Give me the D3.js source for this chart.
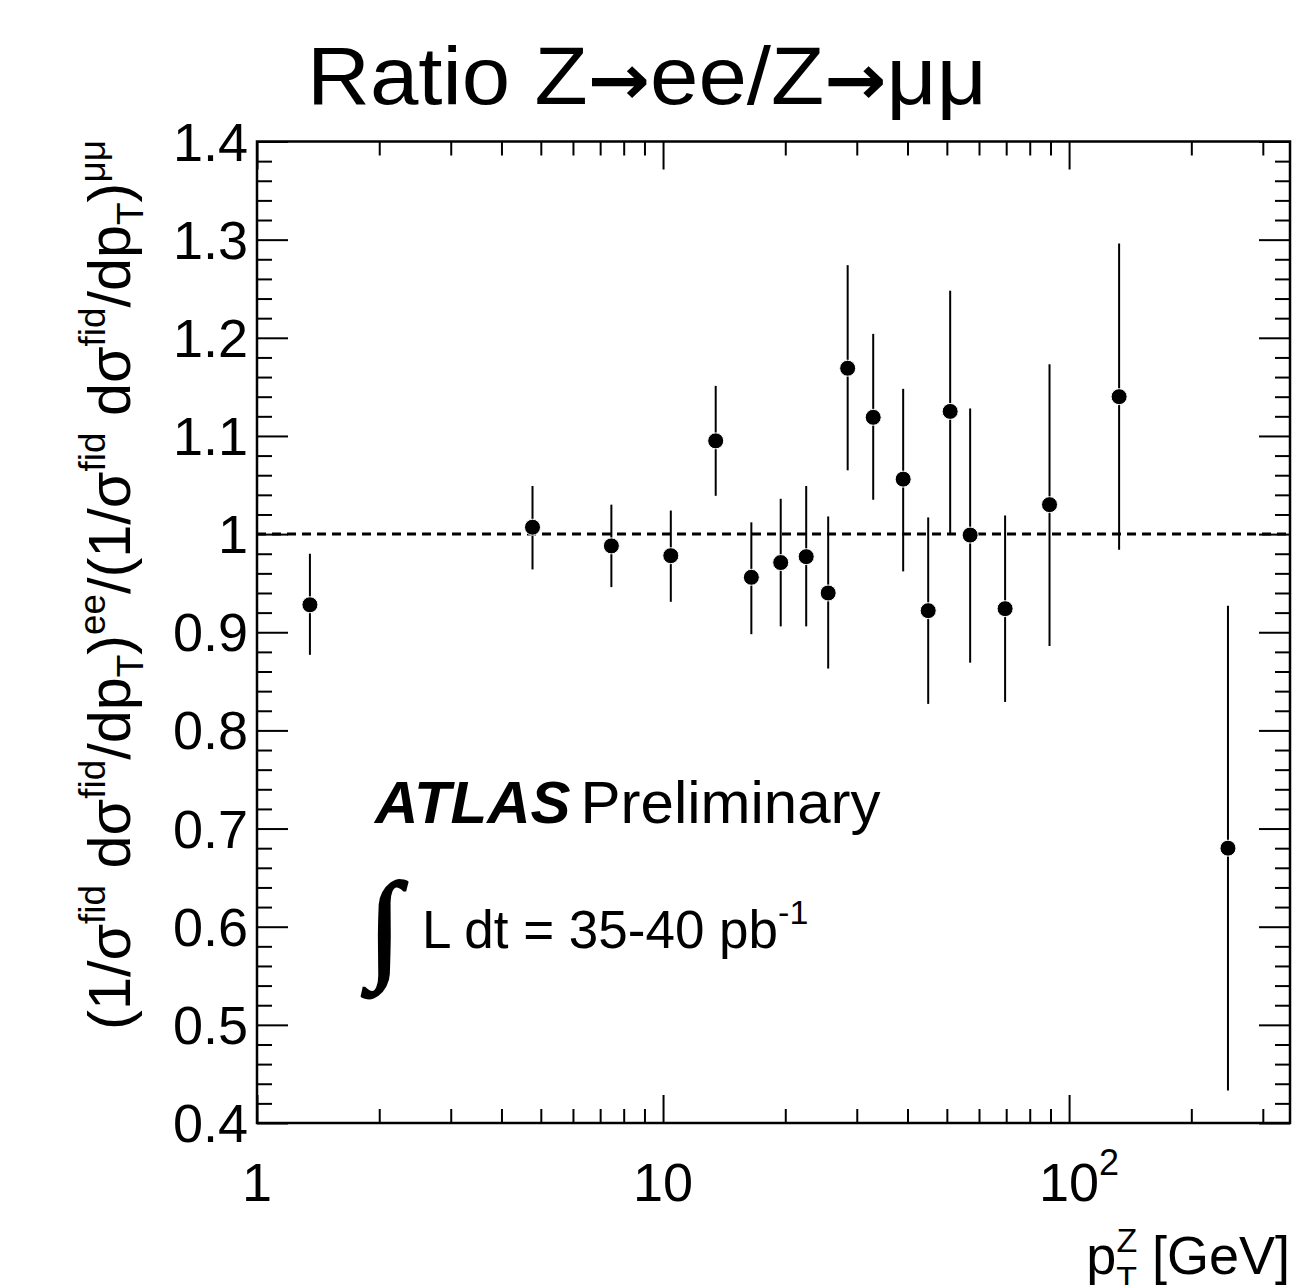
<!DOCTYPE html>
<html>
<head>
<meta charset="utf-8">
<script src="https://cdn.jsdelivr.net/npm/d3@7"></script>
<style>
  body { margin: 0; background: #fff; }
  svg { display: block; }
  text { font-family: "Liberation Sans", Arial, Helvetica, sans-serif; fill: #000; }
</style>
</head>
<body>
<div class="graphs"></div>
<script>
// bin centres (GeV) and ratio values
var ptValues = [1.35, 4.77, 7.46, 10.45, 13.48, 16.5, 19.49, 22.52, 25.51, 28.49, 32.93, 39.03, 44.98, 50.95, 57.06, 69.57, 89.5, 132.8, 246.2];
var ratioValues = [0.928, 1.007, 0.988, 0.978, 1.095, 0.956, 0.971, 0.977, 0.940, 1.169, 1.119, 1.056, 0.922, 1.125, 0.999, 0.924, 1.030, 1.140, 0.680];
var errHigh = [0.980, 1.049, 1.030, 1.024, 1.151, 1.012, 1.036, 1.049, 1.018, 1.274, 1.204, 1.148, 1.017, 1.248, 1.128, 1.019, 1.173, 1.296, 0.927];
var errLow = [0.877, 0.964, 0.946, 0.931, 1.039, 0.898, 0.906, 0.906, 0.863, 1.065, 1.035, 0.962, 0.827, 1.000, 0.869, 0.829, 0.886, 0.984, 0.433];

var yMajor = [0.4, 0.5, 0.6, 0.7, 0.8, 0.9, 1.0, 1.1, 1.2, 1.3, 1.4];
var yLabels = ['0.4', '0.5', '0.6', '0.7', '0.8', '0.9', '1', '1.1', '1.2', '1.3', '1.4'];
var xMajor = [1, 10, 100];
var xMinor = [2, 3, 4, 5, 6, 7, 8, 9, 20, 30, 40, 50, 60, 70, 80, 90, 200, 300];

var W = 1294, H = 1285;
var padL = 257, padR = 1290, padT = 141.5, padB = 1123;

var svg = d3.select('.graphs').append('svg')
    .attr('width', W)
    .attr('height', H);

var x = d3.scaleLog().domain([1, 350]).range([padL, padR]);
var y = d3.scaleLinear().domain([0.4, 1.4]).range([padB, padT]);

var yMinor = d3.range(0.4, 1.4001, 0.02).filter(function (v) {
  return Math.abs(Math.round(v * 10) - v * 10) > 0.01;
});

// ticks, all pointing into the frame
var tickStyle = function (g) {
  g.select('.domain').remove();
  g.selectAll('line').attr('stroke', '#000').attr('stroke-width', 2);
  g.selectAll('text').remove();
};

svg.append('g').attr('transform', 'translate(0,' + padB + ')')
  .call(d3.axisBottom(x).tickValues(xMajor).tickSize(-28).tickFormat('')).call(tickStyle);
svg.append('g').attr('transform', 'translate(0,' + padB + ')')
  .call(d3.axisBottom(x).tickValues(xMinor).tickSize(-14).tickFormat('')).call(tickStyle);
svg.append('g').attr('transform', 'translate(0,' + padT + ')')
  .call(d3.axisTop(x).tickValues(xMajor).tickSize(-28).tickFormat('')).call(tickStyle);
svg.append('g').attr('transform', 'translate(0,' + padT + ')')
  .call(d3.axisTop(x).tickValues(xMinor).tickSize(-14).tickFormat('')).call(tickStyle);

svg.append('g').attr('transform', 'translate(' + padL + ',0)')
  .call(d3.axisLeft(y).tickValues(yMajor).tickSize(-31).tickFormat('')).call(tickStyle);
svg.append('g').attr('transform', 'translate(' + padL + ',0)')
  .call(d3.axisLeft(y).tickValues(yMinor).tickSize(-15).tickFormat('')).call(tickStyle);
svg.append('g').attr('transform', 'translate(' + padR + ',0)')
  .call(d3.axisRight(y).tickValues(yMajor).tickSize(-31).tickFormat('')).call(tickStyle);
svg.append('g').attr('transform', 'translate(' + padR + ',0)')
  .call(d3.axisRight(y).tickValues(yMinor).tickSize(-15).tickFormat('')).call(tickStyle);

// frame
svg.append('rect')
  .attr('x', padL).attr('y', padT)
  .attr('width', padR - padL).attr('height', padB - padT)
  .attr('fill', 'none').attr('stroke', '#000').attr('stroke-width', 2.5);

// y tick labels
svg.selectAll('.ylab')
  .data(yMajor)
  .enter()
  .append('text')
  .attr('class', 'ylab')
  .attr('x', 248)
  .attr('y', function (d) { return y(d) + 19; })
  .attr('text-anchor', 'end')
  .style('font-size', '54px')
  .text(function (d, i) { return yLabels[i]; });

// x tick labels
svg.selectAll('.xlab')
  .data(xMajor)
  .enter()
  .append('text')
  .attr('class', 'xlab')
  .attr('x', function (d) { return x(d); })
  .attr('y', 1201)
  .attr('text-anchor', 'middle')
  .style('font-size', '54px')
  .each(function (d) {
    var t = d3.select(this);
    if (d === 100) {
      t.attr('dx', 10);
      t.append('tspan').text('10');
      t.append('tspan').attr('dy', -26).style('font-size', '36px').text('2');
    } else {
      t.text(d);
    }
  });

// reference line at 1
svg.append('line')
  .attr('x1', padL).attr('x2', padR)
  .attr('y1', y(1)).attr('y2', y(1))
  .attr('stroke', '#000').attr('stroke-width', 3)
  .attr('stroke-dasharray', '9,6');

// error bars and markers
svg.selectAll('.err')
  .data(ptValues)
  .enter()
  .append('line')
  .attr('class', 'err')
  .attr('x1', function (d) { return x(d); })
  .attr('x2', function (d) { return x(d); })
  .attr('y1', function (d, i) { return y(errHigh[i]); })
  .attr('y2', function (d, i) { return y(errLow[i]); })
  .attr('stroke', '#000').attr('stroke-width', 2);

svg.selectAll('.pt')
  .data(ptValues)
  .enter()
  .append('circle')
  .attr('class', 'pt')
  .attr('cx', function (d) { return x(d); })
  .attr('cy', function (d, i) { return y(ratioValues[i]); })
  .attr('r', 8)
  .attr('fill', '#000')
  .attr('stroke', '#fff').attr('stroke-width', 1);

// text built from pieces with super/subscripts
var richText = function (sel, pieces, size) {
  var shift = 0;
  pieces.forEach(function (p) {
    var target = 0, fs = size;
    if (p[1] === 'sup') { target = -0.42 * size; fs = 0.62 * size; }
    if (p[1] === 'sub') { target = 0.22 * size; fs = 0.62 * size; }
    sel.append('tspan')
      .attr('dy', target - shift)
      .style('font-size', fs + 'px')
      .text(p[0]);
    shift = target;
  });
};

// title
var title = svg.append('text')
  .attr('x', 307).attr('y', 104)
  .style('font-size', '82px');
title.append('tspan').text('Ratio Z');
title.append('tspan').style('font-family', '"DejaVu Sans", sans-serif').style('font-weight', 'bold').style('font-size', '70px').text('\u2192');
title.append('tspan').text('ee/Z');
title.append('tspan').style('font-family', '"DejaVu Sans", sans-serif').style('font-weight', 'bold').style('font-size', '70px').text('\u2192');
title.append('tspan').text('\u03bc\u03bc');
var tlen = title.node().getComputedTextLength();
if (tlen > 0) {
  title.attr('transform', 'translate(307,104) scale(' + (680 / tlen) + ',1) translate(-307,-104)');
}

// y axis title
var yTitlePieces = [
  ['(1/\u03c3', 'n'], ['fid', 'sup'], [' d\u03c3', 'n'], ['fid', 'sup'], ['/dp', 'n'], ['T', 'sub'], [')', 'n'], ['ee', 'sup'],
  ['/(1/\u03c3', 'n'], ['fid', 'sup'], [' d\u03c3', 'n'], ['fid', 'sup'], ['/dp', 'n'], ['T', 'sub'], [')', 'n'], ['\u03bc\u03bc', 'sup']
];
var ytitle = svg.append('text')
  .attr('text-anchor', 'middle')
  .attr('transform', 'translate(130,585) rotate(-90)');
richText(ytitle, yTitlePieces, 58);
var len = ytitle.node().getComputedTextLength();
ytitle.selectAll('tspan').remove();
richText(ytitle, yTitlePieces, 58 * 890 / len);

// x axis title
var xtitle = svg.append('text')
  .attr('x', 1290).attr('y', 1274)
  .attr('text-anchor', 'end')
  .style('font-size', '54px');
xtitle.append('tspan').text('p');
xtitle.append('tspan').attr('dy', -22).style('font-size', '34px').text('Z');
xtitle.append('tspan').attr('dx', -21).attr('dy', 38).style('font-size', '34px').text('T');
xtitle.append('tspan').attr('dy', -16).text(' [GeV]');

// ATLAS label
var atlas = svg.append('text').attr('x', 375).attr('y', 823).style('font-size', '60px');
atlas.append('tspan').style('font-weight', 'bold').style('font-style', 'italic').text('ATLAS');
atlas.append('tspan').attr('dx', 10).text('Preliminary');

svg.append('text')
  .attr('x', 368).attr('y', 966)
  .style('font-family', '"Liberation Serif", "DejaVu Serif", serif')
  .style('font-weight', 'bold')
  .style('font-size', '120px')
  .style('stroke', '#000').style('stroke-width', 2.5)
  .text('\u222b');

var lumi = svg.append('text').attr('x', 422).attr('y', 948).style('font-size', '53px');
lumi.append('tspan').text('L dt = 35-40 pb');
lumi.append('tspan').attr('dy', -24).style('font-size', '34px').text('-1');
</script>
</body>
</html>
